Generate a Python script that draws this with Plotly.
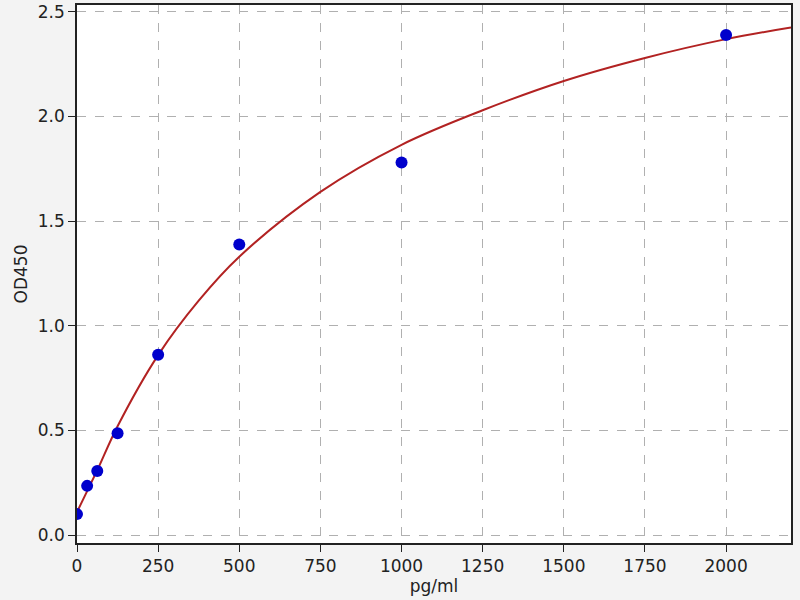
import plotly.graph_objects as go

# standard points
conc = [0, 31.25, 62.5, 125, 250, 500, 1000, 2000]
od = [0.10, 0.235, 0.306, 0.487, 0.862, 1.389, 1.78, 2.39]

# fitted curve
fit_x = [0, 31.25, 62.5, 125, 250, 375, 500, 750, 1000, 1250, 1500, 1750, 2000, 2200]
fit_y = [0.11, 0.21, 0.31, 0.52, 0.86, 1.12, 1.33, 1.64, 1.865, 2.03, 2.17, 2.28, 2.37, 2.425]

x_ticks = [0, 250, 500, 750, 1000, 1250, 1500, 1750, 2000]
y_ticks = [0.0, 0.5, 1.0, 1.5, 2.0, 2.5]

fig = go.Figure()
fig.add_trace(go.Scatter(x=fit_x, y=fit_y, mode="lines", line_shape="spline",
                         line=dict(color="#b22222", width=2), showlegend=False))
fig.add_trace(go.Scatter(x=conc, y=od, mode="markers",
                         marker=dict(color="#0000cc", size=12), showlegend=False))

axis = dict(showline=True, linecolor="#222", linewidth=1.5, mirror=True,
            ticks="outside", ticklen=7, tickcolor="#222",
            showgrid=True, gridcolor="#b0b0b0", griddash="dash", gridwidth=1,
            zeroline=False, tickfont=dict(size=17, color="#222"))

fig.update_layout(
    width=800, height=600,
    margin=dict(l=77, r=9, t=3, b=57),
    paper_bgcolor="#f3f3f3", plot_bgcolor="white",
    font=dict(family="DejaVu Sans", size=17, color="#222"),
    xaxis=dict(axis, range=[0, 2200], tickvals=x_ticks,
               title=dict(text="pg/ml", standoff=2, font=dict(size=17))),
    yaxis=dict(axis, range=[-0.038, 2.533], tickvals=y_ticks, tickformat=".1f",
               title=dict(text="OD450", standoff=6, font=dict(size=17))),
)

fig.write_html("out.html", config={"displayModeBar": False},
               post_script="document.body.style.margin='0px';")
